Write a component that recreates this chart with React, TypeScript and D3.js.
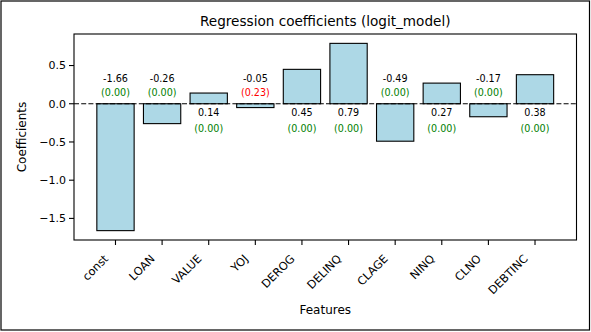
import React from "react";
import * as d3 from "d3";

const features = ["const", "LOAN", "VALUE", "YOJ", "DEROG", "DELINQ", "CLAGE", "NINQ", "CLNO", "DEBTINC"];
const coefficients = [-1.66, -0.26, 0.14, -0.05, 0.45, 0.79, -0.49, 0.27, -0.17, 0.38];
const pValues = [0.0, 0.0, 0.0, 0.23, 0.0, 0.0, 0.0, 0.0, 0.0, 0.0];
const yTicks = [0.5, 0.0, -0.5, -1.0, -1.5];

const W = 591;
const H = 332;
const left = 74;
const right = 576.5;
const top = 34;
const bottom = 240;
const font = "DejaVu Sans, sans-serif";

export default function App() {
  const n = features.length;
  const barW = 0.8;
  const xMin = -barW / 2;
  const xMax = n - 1 + barW / 2;
  const xPad = (xMax - xMin) * 0.05;
  const x = d3.scaleLinear().domain([xMin - xPad, xMax + xPad]).range([left, right]);
  const yLo = Math.min(0, d3.min(coefficients)!);
  const yHi = Math.max(0, d3.max(coefficients)!);
  const yPad = (yHi - yLo) * 0.05;
  const y = d3.scaleLinear().domain([yLo - yPad, yHi + yPad]).range([bottom, top]);
  const fmt = (v: number) => v.toFixed(1).replace("-", "\u2212");
  const y0 = y(0);

  return (
    <svg width={W} height={H} style={{ position: "absolute", left: 0, top: 0, background: "#fff" }} fontFamily={font}>
      <rect x={0} y={0} width={W} height={H} fill="#fff" />
      <rect x={1} y={1} width={588.5} height={329} fill="none" stroke="#000" strokeWidth={1.2} />
      <text x={(left + right) / 2} y={26} textAnchor="middle" fontSize={13.6} fill="#000">
        Regression coefficients (logit_model)
      </text>
      {coefficients.map((v, i) => (
        <rect
          key={features[i]}
          x={x(i - barW / 2)}
          y={y(Math.max(0, v))}
          width={x(i + barW / 2) - x(i - barW / 2)}
          height={Math.abs(y(v) - y0)}
          fill="#add8e6"
          stroke="#000"
          strokeWidth={1.1}
        />
      ))}
      <line x1={left} x2={right} y1={y0} y2={y0} stroke="#000" strokeWidth={1.2} strokeDasharray="5,2.2" />
      {coefficients.map((v, i) => {
        const neg = v < 0;
        const vy = neg ? y0 - 22 : y0 + 12;
        const py = neg ? y0 - 7.5 : y0 + 28;
        return (
          <g key={"a" + features[i]} fontSize={9.6} textAnchor="middle">
            <text x={x(i)} y={vy} fill="#000">{v.toFixed(2)}</text>
            <text x={x(i)} y={py} fill={pValues[i] < 0.05 ? "#008000" : "#ff0000"}>({pValues[i].toFixed(2)})</text>
          </g>
        );
      })}
      <rect x={left} y={top} width={right - left} height={bottom - top} fill="none" stroke="#000" strokeWidth={1.1} />
      {yTicks.map((t) => (
        <g key={"y" + t}>
          <line x1={left - 5} x2={left} y1={y(t)} y2={y(t)} stroke="#000" strokeWidth={1.1} />
          <text x={left - 8} y={y(t)} dy="0.36em" textAnchor="end" fontSize={11} fill="#000">{fmt(t)}</text>
        </g>
      ))}
      {features.map((f, i) => (
        <g key={"x" + f}>
          <line x1={x(i)} x2={x(i)} y1={bottom} y2={bottom + 5} stroke="#000" strokeWidth={1.1} />
          <text
            transform={`translate(${x(i) - 6.5},${bottom + 19.5}) rotate(-45)`}
            textAnchor="end"
            fontSize={11.3}
            fill="#000"
          >
            {f}
          </text>
        </g>
      ))}
      <text x={(left + right) / 2} y={314} textAnchor="middle" fontSize={12} fill="#000">Features</text>
      <text transform={`translate(26,${(top + bottom) / 2}) rotate(-90)`} textAnchor="middle" fontSize={12} fill="#000">
        Coefficients
      </text>
    </svg>
  );
}
